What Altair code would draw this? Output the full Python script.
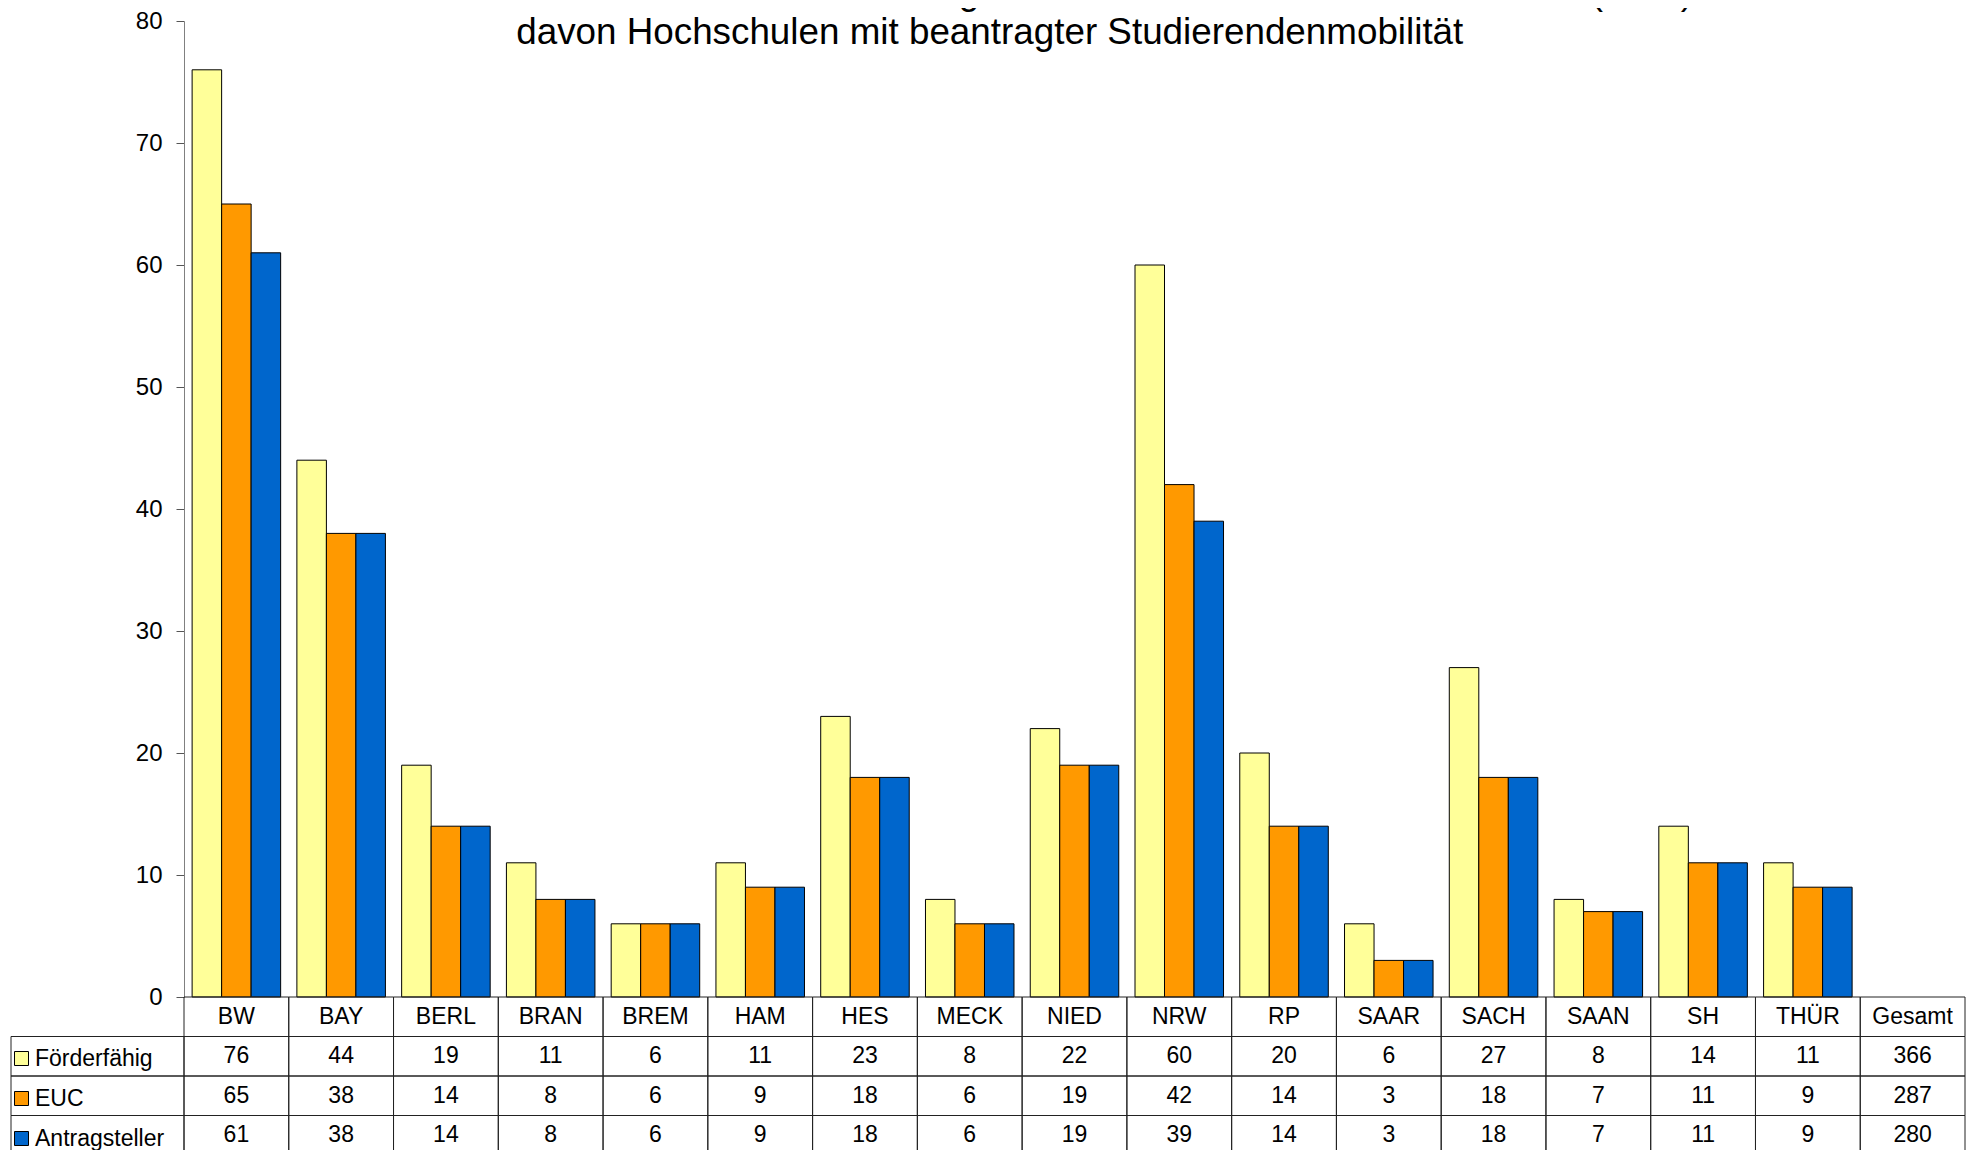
import altair as alt
import pandas as pd

categories = ["BW", "BAY", "BERL", "BRAN", "BREM", "HAM", "HES", "MECK", "NIED",
              "NRW", "RP", "SAAR", "SACH", "SAAN", "SH", "THÜR", "Gesamt"]
series = ["Förderfähig", "EUC", "Antragsteller"]
foerderfaehig = [76, 44, 19, 11, 6, 11, 23, 8, 22, 60, 20, 6, 27, 8, 14, 11, 366]
euc = [65, 38, 14, 8, 6, 9, 18, 6, 19, 42, 14, 3, 18, 7, 11, 9, 287]
antragsteller = [61, 38, 14, 8, 6, 9, 18, 6, 19, 39, 14, 3, 18, 7, 11, 9, 280]
colors = ["#FFFF99", "#FF9900", "#0066CC"]
title_lines = ["Hochschulen mit einer zur Teilnahme berechtigenden ERASMUS-Universitätscharta (EUC) und",
               "davon Hochschulen mit beantragter Studierendenmobilität"]
header_row = "Bundesland"
rows = [header_row] + series

FONT = "Liberation Sans"
W, H = 1781, 976
ROW_H = 39.5

rows_data = []
for s, vals in zip(series, [foerderfaehig, euc, antragsteller]):
    for c, v in zip(categories, vals):
        rows_data.append({"cat": c, "series": s, "value": v})
df = pd.DataFrame(rows_data)
df_bars = df[df["cat"] != "Gesamt"]

df_cells = pd.DataFrame([{"cat": c, "row": r} for r in rows for c in categories])
df_header = pd.DataFrame({"cat": categories, "row": header_row})
df_lbl = pd.DataFrame({"lbl": "Legende", "row": series})

row_scale = alt.Scale(domain=rows, range=[H, H + 4 * ROW_H], paddingInner=0, paddingOuter=0)

x_bar = alt.X("cat:N", sort=categories, axis=None,
              scale=alt.Scale(domain=categories, paddingInner=0.155, paddingOuter=0.0775))
x_tab = alt.X("cat:N", sort=categories, axis=None,
              scale=alt.Scale(domain=categories, paddingInner=0, paddingOuter=0))
y_tab = alt.Y("row:N", axis=None, scale=row_scale)

bars = alt.Chart(df_bars).mark_bar(stroke="black", strokeWidth=1).encode(
    x=x_bar,
    xOffset=alt.XOffset("series:N", sort=series,
                        scale=alt.Scale(domain=series, paddingInner=0, paddingOuter=0)),
    y=alt.Y("value:Q", title=None,
            scale=alt.Scale(domain=[0, 80], nice=False),
            axis=alt.Axis(values=list(range(0, 81, 10)), grid=False, labelFontSize=24,
                          labelColor="black", labelFont=FONT, tickSize=8, labelPadding=14,
                          domainColor="#808080", tickColor="#555555", labelFlush=False)),
    color=alt.Color("series:N", sort=series,
                    scale=alt.Scale(domain=series, range=colors),
                    legend=alt.Legend(orient="none", legendX=-174, legendY=1026, title=None,
                                      direction="vertical", symbolType="square", symbolSize=196,
                                      symbolStrokeColor="black", symbolStrokeWidth=1,
                                      symbolOpacity=1, labelFontSize=23, labelFont=FONT,
                                      labelColor="black", labelOffset=2, rowPadding=16,
                                      padding=0, labelLimit=300)),
)

cells = alt.Chart(df_cells).mark_rect(fill="white", fillOpacity=0, stroke="#222222",
                                      strokeWidth=1).encode(x=x_tab, y=y_tab)

lbl_cells = alt.Chart(df_lbl).mark_rect(fill="white", fillOpacity=0, stroke="#222222",
                                        strokeWidth=1).encode(
    x=alt.X("lbl:N", axis=None,
            scale=alt.Scale(domain=["Legende"], range=[-173, 0], paddingInner=0, paddingOuter=0)),
    y=y_tab,
)

header_text = alt.Chart(df_header).mark_text(fontSize=23, font=FONT, color="black").encode(
    x=x_tab, y=y_tab, text="cat:N")

value_text = alt.Chart(df).mark_text(fontSize=23, font=FONT, color="black").encode(
    x=x_tab, y=alt.Y("series:N", axis=None, scale=row_scale),
    text="value:Q")

chart = alt.layer(bars, cells, lbl_cells, header_text, value_text).resolve_scale(
    x="independent", y="independent"
).properties(
    width=W, height=H,
    autosize=alt.AutoSizeParams(type="none"),
    padding={"left": 176, "top": 13, "right": 1, "bottom": 153},
    title=alt.TitleParams(text=title_lines, fontSize=36.8, font=FONT, fontWeight="normal",
                          anchor="middle", frame="bounds", offset=-72, baseline="alphabetic",
                          lineHeight=40, color="black", dx=2),
).configure(font=FONT, view=alt.ViewConfig(strokeWidth=0))

chart.save("out.html", embed_options={"renderer": "svg", "actions": False})
